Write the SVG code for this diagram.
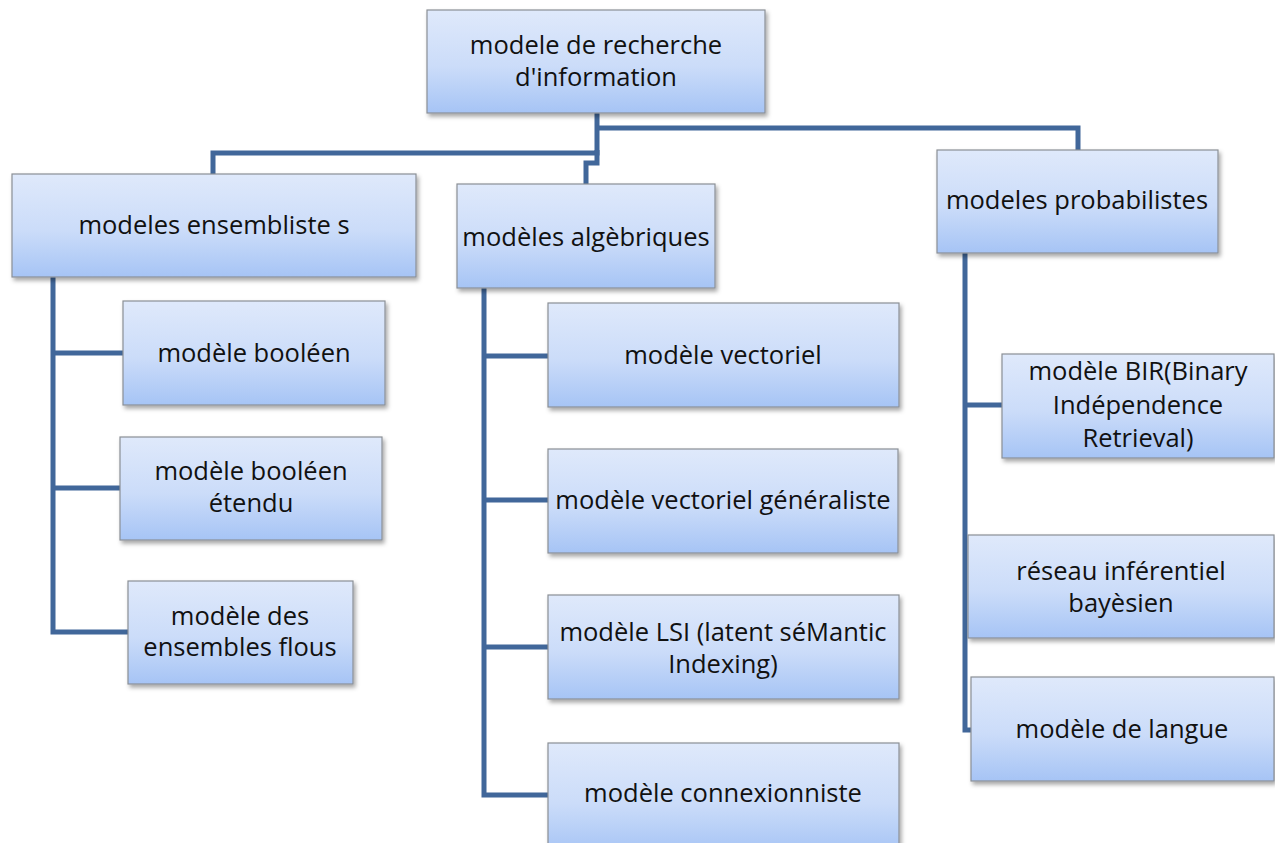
<svg xmlns="http://www.w3.org/2000/svg" width="1275" height="843" viewBox="0 0 1275 843">
<defs>
<linearGradient id="g" x1="0" y1="0" x2="0" y2="1">
<stop offset="0" stop-color="#dfe9fb"/>
<stop offset="0.55" stop-color="#cbdcf9"/>
<stop offset="1" stop-color="#a6c4f5"/>
</linearGradient>
<filter id="sh" x="-10%" y="-10%" width="130%" height="140%">
<feDropShadow dx="2" dy="3" stdDeviation="2" flood-color="#000" flood-opacity="0.35"/>
</filter>
</defs>
<style>
.box{fill:url(#g);stroke:#8a8f96;stroke-width:1.2;filter:url(#sh)}
.t{font-family:"Open Sans","Liberation Sans",sans-serif;font-size:25.5px;fill:#111;text-anchor:middle}
.c{fill:none;stroke:#41679a;stroke-width:5;stroke-linejoin:miter}
</style>
<rect width="1275" height="843" fill="#fff"/>
<g id="connectors">
<path class="c" d="M597,113 V153 H213 V175"/>
<path class="c" d="M597,128 H1078 V150"/>
<path class="c" d="M597,150 V163 H586 V184"/>
<path class="c" d="M53,277 V632 H128 M53,353 H123 M53,488 H120"/>
<path class="c" d="M484,288 V795 H548 M484,356 H548 M484,500 H548 M484,647 H548"/>
<path class="c" d="M965,253 V730 H971 M965,405 H1002"/>
</g>
<g id="root"><rect class="box" x="427" y="10" width="338" height="103"/>
<text class="t" x="596" y="54">modele de recherche</text><text class="t" x="596" y="86">d'information</text></g>
<g id="ensemblistes"><rect class="box" x="12" y="174" width="404" height="103"/>
<text class="t" x="214" y="234">modeles ensembliste s</text></g>
<g id="algebriques"><rect class="box" x="457" y="184" width="258" height="104"/>
<text class="t" x="586" y="246">modèles algèbriques</text></g>
<g id="probabilistes"><rect class="box" x="937" y="150" width="281" height="103"/>
<text class="t" x="1077" y="209">modeles probabilistes</text></g>
<g id="booleen"><rect class="box" x="123" y="301" width="262" height="104"/>
<text class="t" x="254" y="362">modèle booléen</text></g>
<g id="booleen-etendu"><rect class="box" x="120" y="437" width="262" height="103"/>
<text class="t" x="251" y="480">modèle booléen</text><text class="t" x="251" y="512">étendu</text></g>
<g id="flous"><rect class="box" x="128" y="581" width="225" height="103"/>
<text class="t" x="240" y="625">modèle des</text><text class="t" x="240" y="656">ensembles flous</text></g>
<g id="vectoriel"><rect class="box" x="548" y="303" width="351" height="104"/>
<text class="t" x="723" y="364">modèle vectoriel</text></g>
<g id="vectoriel-generaliste"><rect class="box" x="548" y="449" width="350" height="104"/>
<text class="t" x="723" y="509">modèle vectoriel généraliste</text></g>
<g id="lsi"><rect class="box" x="548" y="595" width="351" height="104"/>
<text class="t" x="723" y="641">modèle LSI (latent séMantic</text><text class="t" x="723" y="673">Indexing)</text></g>
<g id="connexionniste"><rect class="box" x="548" y="743" width="351" height="110"/>
<text class="t" x="723" y="802">modèle connexionniste</text></g>
<g id="bir"><rect class="box" x="1002" y="354" width="272" height="104"/>
<text class="t" x="1138" y="380">modèle BIR(Binary</text><text class="t" x="1138" y="414">Indépendence</text><text class="t" x="1138" y="447">Retrieval)</text></g>
<g id="reseau"><rect class="box" x="968" y="535" width="306" height="103"/>
<text class="t" x="1121" y="580">réseau inférentiel</text><text class="t" x="1121" y="612">bayèsien</text></g>
<g id="langue"><rect class="box" x="971" y="677" width="303" height="104"/>
<text class="t" x="1122" y="738">modèle de langue</text></g>
</svg>
